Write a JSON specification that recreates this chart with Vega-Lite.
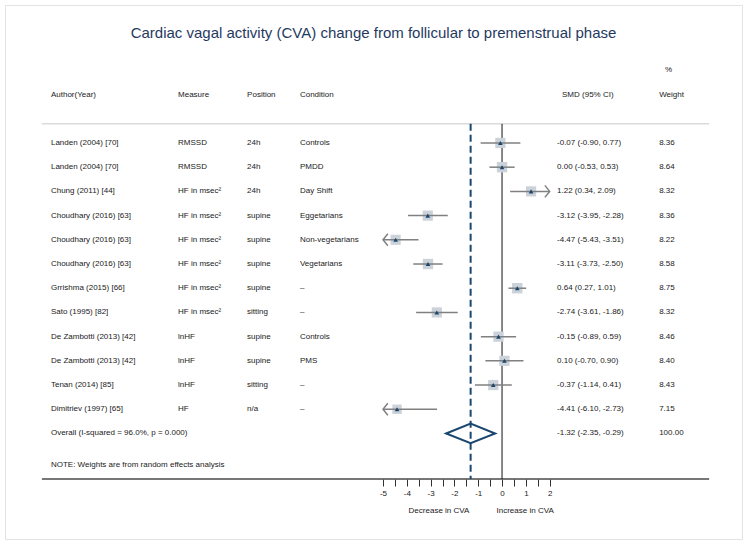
{
"$schema": "https://vega.github.io/schema/vega-lite/v6.json",
"width": 747, "height": 544,
"autosize": {"type": "fit", "contains": "padding"},
"padding": 5,
"background": "white",
"title": {"text": "Cardiac vagal activity (CVA) change from follicular to premenstrual phase", "font": "Liberation Sans", "fontSize": 15, "fontWeight": "normal", "color": "#1f3a5f", "anchor": "middle", "frame": "group", "offset": -43, "baseline": "middle"},
"config": {
  "view": {"stroke": "#e3e3e3", "strokeWidth": 1},
  "font": "Liberation Sans",
  "text": {"font": "Liberation Sans", "fontSize": 8, "align": "left", "baseline": "middle", "color": "#1a1a1a"}
},
"datasets": {
  "rows": [
    {"type": "study", "row": 1, "author": "Landen (2004) [70]", "measure": "RMSSD", "position": "24h", "condition": "Controls", "est": -0.07, "lo": -0.90, "hi": 0.77, "ci": "-0.07 (-0.90, 0.77)", "weight": 8.36},
    {"type": "study", "row": 2, "author": "Landen (2004) [70]", "measure": "RMSSD", "position": "24h", "condition": "PMDD", "est": 0.00, "lo": -0.53, "hi": 0.53, "ci": "0.00 (-0.53, 0.53)", "weight": 8.64},
    {"type": "study", "row": 3, "author": "Chung (2011) [44]", "measure": "HF in msec²", "position": "24h", "condition": "Day Shift", "est": 1.22, "lo": 0.34, "hi": 2.09, "ci": "1.22 (0.34, 2.09)", "weight": 8.32},
    {"type": "study", "row": 4, "author": "Choudhary (2016) [63]", "measure": "HF in msec²", "position": "supine", "condition": "Eggetarians", "est": -3.12, "lo": -3.95, "hi": -2.28, "ci": "-3.12 (-3.95, -2.28)", "weight": 8.36},
    {"type": "study", "row": 5, "author": "Choudhary (2016) [63]", "measure": "HF in msec²", "position": "supine", "condition": "Non-vegetarians", "est": -4.47, "lo": -5.43, "hi": -3.51, "ci": "-4.47 (-5.43, -3.51)", "weight": 8.22},
    {"type": "study", "row": 6, "author": "Choudhary (2016) [63]", "measure": "HF in msec²", "position": "supine", "condition": "Vegetarians", "est": -3.11, "lo": -3.73, "hi": -2.50, "ci": "-3.11 (-3.73, -2.50)", "weight": 8.58},
    {"type": "study", "row": 7, "author": "Grrishma (2015) [66]", "measure": "HF in msec²", "position": "supine", "condition": "–", "est": 0.64, "lo": 0.27, "hi": 1.01, "ci": "0.64 (0.27, 1.01)", "weight": 8.75},
    {"type": "study", "row": 8, "author": "Sato (1995) [82]", "measure": "HF in msec²", "position": "sitting", "condition": "–", "est": -2.74, "lo": -3.61, "hi": -1.86, "ci": "-2.74 (-3.61, -1.86)", "weight": 8.32},
    {"type": "study", "row": 9, "author": "De Zambotti (2013) [42]", "measure": "lnHF", "position": "supine", "condition": "Controls", "est": -0.15, "lo": -0.89, "hi": 0.59, "ci": "-0.15 (-0.89, 0.59)", "weight": 8.46},
    {"type": "study", "row": 10, "author": "De Zambotti (2013) [42]", "measure": "lnHF", "position": "supine", "condition": "PMS", "est": 0.10, "lo": -0.70, "hi": 0.90, "ci": "0.10 (-0.70, 0.90)", "weight": 8.40},
    {"type": "study", "row": 11, "author": "Tenan (2014) [85]", "measure": "lnHF", "position": "sitting", "condition": "–", "est": -0.37, "lo": -1.14, "hi": 0.41, "ci": "-0.37 (-1.14, 0.41)", "weight": 8.43},
    {"type": "study", "row": 12, "author": "Dimitriev (1997) [65]", "measure": "HF", "position": "n/a", "condition": "–", "est": -4.41, "lo": -6.10, "hi": -2.73, "ci": "-4.41 (-6.10, -2.73)", "weight": 7.15},
    {"type": "overall", "row": 13, "author": "Overall  (I-squared = 96.0%, p = 0.000)", "measure": "", "position": "", "condition": "", "est": -1.32, "lo": -2.35, "hi": -0.29, "ci": "-1.32 (-2.35, -0.29)", "weight": 100.00}
  ]
},
"data": {"name": "rows"},
"layer": [
  {"transform": [{"filter": "datum.type === 'study'"}], "mark": {"type": "point", "shape": "triangle-up", "filled": true, "color": "#1a476f", "size": 0, "opacity": 0},
   "encoding": {"x": {"field": "est", "type": "quantitative", "scale": {"domain": [-20.88, 10.08], "nice": false, "zero": false},
                      "axis": {"title": null, "orient": "bottom", "offset": -60, "values": [-5, -4.5, -4, -3.5, -3, -2.5, -2, -1.5, -1, -0.5, 0, 0.5, 1, 1.5, 2],
                               "labelExpr": "datum.value % 1 === 0 ? toString(datum.value) : ''", "domain": false, "grid": false, "ticks": true,
                               "tickSize": 7, "tickColor": "#333333", "tickWidth": 1, "labelFont": "Liberation Sans", "labelFontSize": 8, "labelColor": "#1a1a1a",
                               "labelPadding": 3, "labelOverlap": false, "labelFlush": false}},
                "y": {"field": "row", "type": "quantitative", "axis": null, "scale": {"domain": [-4.70, 17.36], "nice": false, "zero": false, "reverse": true}}}},
  {"data": {"values": [{}]}, "mark": {"type": "rule", "color": "#c8c8c8", "strokeWidth": 1},
   "encoding": {"x": {"datum": -19.33, "type": "quantitative", "scale": {"domain": [-20.88, 10.08], "nice": false, "zero": false}}, "x2": {"datum": 8.70},
                "y": {"datum": 0.21, "type": "quantitative", "axis": null, "scale": {"domain": [-4.70, 17.36], "nice": false, "zero": false, "reverse": true}}}},
  {"data": {"values": [{}]}, "mark": {"type": "rule", "color": "#4a4a4a", "strokeWidth": 1.5},
   "encoding": {"x": {"datum": -19.33, "type": "quantitative", "scale": {"domain": [-20.88, 10.08], "nice": false, "zero": false}}, "x2": {"datum": 8.70},
                "y": {"datum": 14.88, "type": "quantitative", "axis": null, "scale": {"domain": [-4.70, 17.36], "nice": false, "zero": false, "reverse": true}}}},
  {"data": {"values": [{}]}, "mark": {"type": "rule", "color": "#111111", "strokeWidth": 1},
   "encoding": {"x": {"datum": 0, "type": "quantitative", "scale": {"domain": [-20.88, 10.08], "nice": false, "zero": false}},
                "y": {"datum": 0.21, "type": "quantitative", "axis": null, "scale": {"domain": [-4.70, 17.36], "nice": false, "zero": false, "reverse": true}}, "y2": {"datum": 14.88}}},
  {"transform": [{"filter": "datum.type === 'overall'"}], "mark": {"type": "rule", "color": "#1a476f", "strokeWidth": 2, "strokeDash": [7, 4]},
   "encoding": {"x": {"field": "est", "type": "quantitative", "scale": {"domain": [-20.88, 10.08], "nice": false, "zero": false}},
                "y": {"datum": 0.21, "type": "quantitative", "axis": null, "scale": {"domain": [-4.70, 17.36], "nice": false, "zero": false, "reverse": true}}, "y2": {"datum": 14.88}}},
  {"transform": [{"filter": "datum.type === 'study'"}], "mark": {"type": "point", "shape": "square", "filled": true, "color": "#ccd2da", "opacity": 1},
   "encoding": {"x": {"field": "est", "type": "quantitative", "scale": {"domain": [-20.88, 10.08], "nice": false, "zero": false}},
                "y": {"field": "row", "type": "quantitative", "axis": null, "scale": {"domain": [-4.70, 17.36], "nice": false, "zero": false, "reverse": true}},
                "size": {"field": "weight", "type": "quantitative", "scale": {"domain": [0, 9], "range": [0, 112]}, "legend": null}}},
  {"transform": [{"filter": "datum.type === 'study' && datum.lo >= -5 && datum.hi <= 2"}], "mark": {"type": "rule", "color": "#808080", "strokeWidth": 1.5},
   "encoding": {"x": {"field": "lo", "type": "quantitative", "scale": {"domain": [-20.88, 10.08], "nice": false, "zero": false}}, "x2": {"field": "hi"},
                "y": {"field": "row", "type": "quantitative", "axis": null, "scale": {"domain": [-4.70, 17.36], "nice": false, "zero": false, "reverse": true}}}},
  {"transform": [{"filter": "datum.type === 'study' && datum.lo < -5"}], "mark": {"type": "rule", "color": "#808080", "strokeWidth": 1.5},
   "encoding": {"x": {"field": "hi", "type": "quantitative", "scale": {"domain": [-20.88, 10.08], "nice": false, "zero": false}}, "x2": {"datum": -5},
                "y": {"field": "row", "type": "quantitative", "axis": null, "scale": {"domain": [-4.70, 17.36], "nice": false, "zero": false, "reverse": true}}}},
  {"transform": [{"filter": "datum.type === 'study' && datum.hi > 2"}], "mark": {"type": "rule", "color": "#808080", "strokeWidth": 1.5},
   "encoding": {"x": {"field": "lo", "type": "quantitative", "scale": {"domain": [-20.88, 10.08], "nice": false, "zero": false}}, "x2": {"datum": 2},
                "y": {"field": "row", "type": "quantitative", "axis": null, "scale": {"domain": [-4.70, 17.36], "nice": false, "zero": false, "reverse": true}}}},
  {"transform": [{"filter": "datum.type === 'study' && datum.lo < -5"}], "mark": {"type": "point", "shape": "M 0.8 -1 L 0 0 L 0.8 1", "filled": false, "stroke": "#808080", "strokeWidth": 1.5, "size": 144, "opacity": 1},
   "encoding": {"x": {"datum": -5, "type": "quantitative", "scale": {"domain": [-20.88, 10.08], "nice": false, "zero": false}},
                "y": {"field": "row", "type": "quantitative", "axis": null, "scale": {"domain": [-4.70, 17.36], "nice": false, "zero": false, "reverse": true}}}},
  {"transform": [{"filter": "datum.type === 'study' && datum.hi > 2"}], "mark": {"type": "point", "shape": "M -0.8 -1 L 0 0 L -0.8 1", "filled": false, "stroke": "#808080", "strokeWidth": 1.5, "size": 144, "opacity": 1},
   "encoding": {"x": {"datum": 2, "type": "quantitative", "scale": {"domain": [-20.88, 10.08], "nice": false, "zero": false}},
                "y": {"field": "row", "type": "quantitative", "axis": null, "scale": {"domain": [-4.70, 17.36], "nice": false, "zero": false, "reverse": true}}}},
  {"transform": [{"filter": "datum.type === 'study'"}], "mark": {"type": "point", "shape": "triangle-up", "filled": true, "color": "#1a476f", "size": 22, "opacity": 1},
   "encoding": {"x": {"field": "est", "type": "quantitative", "scale": {"domain": [-20.88, 10.08], "nice": false, "zero": false}},
                "y": {"field": "row", "type": "quantitative", "axis": null, "scale": {"domain": [-4.70, 17.36], "nice": false, "zero": false, "reverse": true}}}},
  {"transform": [{"filter": "datum.type === 'overall'"}], "mark": {"type": "point", "shape": "M -1 0 L 0 -0.4 L 1 0 L 0 0.4 Z", "filled": false, "stroke": "#1a476f", "strokeWidth": 2, "size": 2401, "opacity": 1},
   "encoding": {"x": {"field": "est", "type": "quantitative", "scale": {"domain": [-20.88, 10.08], "nice": false, "zero": false}},
                "y": {"field": "row", "type": "quantitative", "axis": null, "scale": {"domain": [-4.70, 17.36], "nice": false, "zero": false, "reverse": true}}}},
  {"mark": {"type": "text"},
   "encoding": {"x": {"datum": -18.95, "type": "quantitative", "scale": {"domain": [-20.88, 10.08], "nice": false, "zero": false}},
                "y": {"field": "row", "type": "quantitative", "axis": null, "scale": {"domain": [-4.70, 17.36], "nice": false, "zero": false, "reverse": true}}, "text": {"field": "author", "type": "nominal"}}},
  {"mark": {"type": "text"},
   "encoding": {"x": {"datum": -13.61, "type": "quantitative", "scale": {"domain": [-20.88, 10.08], "nice": false, "zero": false}},
                "y": {"field": "row", "type": "quantitative", "axis": null, "scale": {"domain": [-4.70, 17.36], "nice": false, "zero": false, "reverse": true}}, "text": {"field": "measure", "type": "nominal"}}},
  {"mark": {"type": "text"},
   "encoding": {"x": {"datum": -10.71, "type": "quantitative", "scale": {"domain": [-20.88, 10.08], "nice": false, "zero": false}},
                "y": {"field": "row", "type": "quantitative", "axis": null, "scale": {"domain": [-4.70, 17.36], "nice": false, "zero": false, "reverse": true}}, "text": {"field": "position", "type": "nominal"}}},
  {"mark": {"type": "text"},
   "encoding": {"x": {"datum": -8.49, "type": "quantitative", "scale": {"domain": [-20.88, 10.08], "nice": false, "zero": false}},
                "y": {"field": "row", "type": "quantitative", "axis": null, "scale": {"domain": [-4.70, 17.36], "nice": false, "zero": false, "reverse": true}}, "text": {"field": "condition", "type": "nominal"}}},
  {"mark": {"type": "text"},
   "encoding": {"x": {"datum": 2.31, "type": "quantitative", "scale": {"domain": [-20.88, 10.08], "nice": false, "zero": false}},
                "y": {"field": "row", "type": "quantitative", "axis": null, "scale": {"domain": [-4.70, 17.36], "nice": false, "zero": false, "reverse": true}}, "text": {"field": "ci", "type": "nominal"}}},
  {"mark": {"type": "text"},
   "encoding": {"x": {"datum": 6.60, "type": "quantitative", "scale": {"domain": [-20.88, 10.08], "nice": false, "zero": false}},
                "y": {"field": "row", "type": "quantitative", "axis": null, "scale": {"domain": [-4.70, 17.36], "nice": false, "zero": false, "reverse": true}}, "text": {"field": "weight", "type": "quantitative", "format": ".2f"}}},
  {"data": {"values": [{}]}, "mark": {"type": "text", "text": "Author(Year)"},
   "encoding": {"x": {"datum": -18.95, "type": "quantitative", "scale": {"domain": [-20.88, 10.08], "nice": false, "zero": false}},
                "y": {"datum": -1, "type": "quantitative", "axis": null, "scale": {"domain": [-4.70, 17.36], "nice": false, "zero": false, "reverse": true}}}},
  {"data": {"values": [{}]}, "mark": {"type": "text", "text": "Measure"},
   "encoding": {"x": {"datum": -13.61, "type": "quantitative", "scale": {"domain": [-20.88, 10.08], "nice": false, "zero": false}},
                "y": {"datum": -1, "type": "quantitative", "axis": null, "scale": {"domain": [-4.70, 17.36], "nice": false, "zero": false, "reverse": true}}}},
  {"data": {"values": [{}]}, "mark": {"type": "text", "text": "Position"},
   "encoding": {"x": {"datum": -10.71, "type": "quantitative", "scale": {"domain": [-20.88, 10.08], "nice": false, "zero": false}},
                "y": {"datum": -1, "type": "quantitative", "axis": null, "scale": {"domain": [-4.70, 17.36], "nice": false, "zero": false, "reverse": true}}}},
  {"data": {"values": [{}]}, "mark": {"type": "text", "text": "Condition"},
   "encoding": {"x": {"datum": -8.49, "type": "quantitative", "scale": {"domain": [-20.88, 10.08], "nice": false, "zero": false}},
                "y": {"datum": -1, "type": "quantitative", "axis": null, "scale": {"domain": [-4.70, 17.36], "nice": false, "zero": false, "reverse": true}}}},
  {"data": {"values": [{}]}, "mark": {"type": "text", "text": "SMD (95% CI)"},
   "encoding": {"x": {"datum": 2.52, "type": "quantitative", "scale": {"domain": [-20.88, 10.08], "nice": false, "zero": false}},
                "y": {"datum": -1, "type": "quantitative", "axis": null, "scale": {"domain": [-4.70, 17.36], "nice": false, "zero": false, "reverse": true}}}},
  {"data": {"values": [{}]}, "mark": {"type": "text", "text": "Weight"},
   "encoding": {"x": {"datum": 6.60, "type": "quantitative", "scale": {"domain": [-20.88, 10.08], "nice": false, "zero": false}},
                "y": {"datum": -1, "type": "quantitative", "axis": null, "scale": {"domain": [-4.70, 17.36], "nice": false, "zero": false, "reverse": true}}}},
  {"data": {"values": [{}]}, "mark": {"type": "text", "text": "%"},
   "encoding": {"x": {"datum": 6.85, "type": "quantitative", "scale": {"domain": [-20.88, 10.08], "nice": false, "zero": false}},
                "y": {"datum": -2, "type": "quantitative", "axis": null, "scale": {"domain": [-4.70, 17.36], "nice": false, "zero": false, "reverse": true}}}},
  {"data": {"values": [{}]}, "mark": {"type": "text", "text": "NOTE: Weights are from random effects analysis"},
   "encoding": {"x": {"datum": -18.95, "type": "quantitative", "scale": {"domain": [-20.88, 10.08], "nice": false, "zero": false}},
                "y": {"datum": 14.3, "type": "quantitative", "axis": null, "scale": {"domain": [-4.70, 17.36], "nice": false, "zero": false, "reverse": true}}}},
  {"data": {"values": [{}]}, "mark": {"type": "text", "text": "Decrease in CVA", "align": "center"},
   "encoding": {"x": {"datum": -2.65, "type": "quantitative", "scale": {"domain": [-20.88, 10.08], "nice": false, "zero": false}},
                "y": {"datum": 16.21, "type": "quantitative", "axis": null, "scale": {"domain": [-4.70, 17.36], "nice": false, "zero": false, "reverse": true}}}},
  {"data": {"values": [{}]}, "mark": {"type": "text", "text": "Increase in CVA", "align": "center"},
   "encoding": {"x": {"datum": 0.97, "type": "quantitative", "scale": {"domain": [-20.88, 10.08], "nice": false, "zero": false}},
                "y": {"datum": 16.21, "type": "quantitative", "axis": null, "scale": {"domain": [-4.70, 17.36], "nice": false, "zero": false, "reverse": true}}}}
]
}
